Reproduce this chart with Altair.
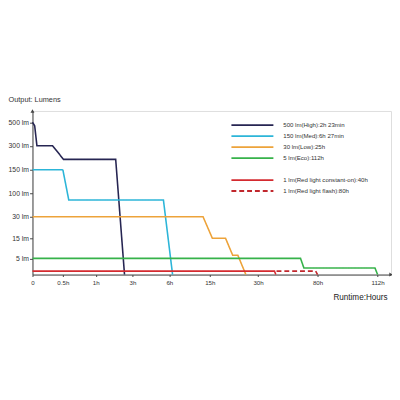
import altair as alt
import pandas as pd

FONT = "Liberation Sans"

# ---- data (hours, lumens) ----
HIGH_H = [0, 0.036, 0.073, 0.33, 0.51, 2.09, 2.57]
HIGH_LM = [500, 470, 300, 300, 215, 215, 0]

MED_H = [0, 0.5, 0.59, 5.52, 6.72]
MED_LM = [150, 150, 80, 80, 0]

LOW_H = [0, 13.5, 15.8, 19.9, 22.1, 23.7, 26.2]
LOW_LM = [30, 30, 15, 15, 6.6, 6.6, 0]

ECO_H = [0, 65.7, 68.5, 110.6, 112]
ECO_LM = [5, 5, 2, 2, 0]

RED_H = [0, 43.8, 44.9]
RED_LM = [1, 1, 0]

FLASH_H = [45.5, 78.4, 80]
FLASH_LM = [1, 1, 0]

SERIES = [
    "500 lm(High):2h 23min",
    "150 lm(Med):6h 27min",
    "30 lm(Low):25h",
    "5 lm(Eco):112h",
    " ",
    "1 lm(Red light constant-on):40h",
    "1 lm(Red light flash):80h",
]
COLORS = ["#262552", "#2cb5d8", "#eda33a", "#36b24a", "#ffffff", "#d42a2f", "#c1272d"]
DASHES = [[1, 0], [1, 0], [1, 0], [1, 0], [1, 0], [1, 0], [5, 3]]

# axis ticks
X_TICKS = [0, 0.5, 1, 3, 6, 15, 30, 80, 112]
Y_TICKS = [5, 15, 30, 100, 150, 300, 500]

# non-uniform axes (piecewise scale breakpoints)
X_DOMAIN = [0, 0.5, 1, 3, 6, 15, 30, 80, 112, 130]
X_RANGE = [0, 31, 64.5, 102, 139.7, 181, 230.3, 291, 352.3, 366]
Y_DOMAIN = [0, 1, 5, 15, 30, 100, 150, 300, 500, 700]
Y_RANGE = [167, 163.5, 150.5, 130, 108, 84, 60, 35.5, 11.5, 0]

# axis-arrow ends
ARROW_X = {"h": [130], "lm": [0], "shape": ["triangle-right"]}
ARROW_Y = {"h": [0], "lm": [700], "shape": ["triangle-up"]}

rows = []
for name, hs, lms in zip(
    [SERIES[0], SERIES[1], SERIES[2], SERIES[3], SERIES[5], SERIES[6]],
    [HIGH_H, MED_H, LOW_H, ECO_H, RED_H, FLASH_H],
    [HIGH_LM, MED_LM, LOW_LM, ECO_LM, RED_LM, FLASH_LM],
):
    for i, (h, lm) in enumerate(zip(hs, lms)):
        rows.append({"series": name, "h": h, "lm": lm, "i": i})
df = pd.DataFrame(rows)

arrows = pd.concat([pd.DataFrame(ARROW_X), pd.DataFrame(ARROW_Y)], ignore_index=True)

xscale = alt.Scale(domain=X_DOMAIN, range=X_RANGE, nice=False, zero=False)
yscale = alt.Scale(domain=Y_DOMAIN, range=Y_RANGE, nice=False, zero=False)

xaxis = alt.Axis(
    values=X_TICKS,
    labelExpr="datum.value == 0 ? '0' : datum.value + 'h'",
    title="Runtime:Hours",
    titleAnchor="start",
    titleAlign="right",
    titleX=362,
    titleY=23,
    titleBaseline="middle",
    titleFont=FONT,
    titleFontSize=8.3,
    titleFontWeight="normal",
    titleColor="#222222",
    labelFont=FONT,
    labelFontSize=6.3,
    labelColor="#333333",
    labelPadding=3,
    labelFlush=False,
    labelOverlap=False,
    tickSize=2,
    tickColor="#444444",
    domainColor="#444444",
    grid=False,
)
yaxis = alt.Axis(
    values=Y_TICKS,
    labelExpr="datum.value + ' lm'",
    title="Output: Lumens",
    titleAngle=0,
    titleAlign="left",
    titleBaseline="middle",
    titleX=-25,
    titleY=-12,
    titleFont=FONT,
    titleFontSize=7.5,
    titleFontWeight="normal",
    titleColor="#333333",
    labelFont=FONT,
    labelFontSize=7,
    labelColor="#333333",
    labelPadding=1,
    labelOverlap=False,
    tickSize=3,
    tickColor="#444444",
    domainColor="#444444",
    grid=False,
)

legend = alt.Legend(
    title=None,
    orient="none",
    legendX=220,
    legendY=10,
    padding=0,
    labelFont=FONT,
    labelFontSize=6.2,
    labelColor="#333333",
    symbolType="M-6,0H6",
    symbolSize=51,
    symbolStrokeWidth=1.8,
    labelOffset=27,
    rowPadding=2.2,
)

lines = alt.Chart(df).mark_line(strokeWidth=1.6, clip=False).encode(
    x=alt.X("h:Q", scale=xscale, axis=xaxis),
    y=alt.Y("lm:Q", scale=yscale, axis=yaxis),
    color=alt.Color("series:N", scale=alt.Scale(domain=SERIES, range=COLORS), legend=legend),
    strokeDash=alt.StrokeDash("series:N", scale=alt.Scale(domain=SERIES, range=DASHES), legend=legend),
    order="i:Q",
)

heads = alt.Chart(arrows).mark_point(filled=True, size=16, color="#444444", opacity=1, clip=False).encode(
    x=alt.X("h:Q", scale=xscale, axis=xaxis),
    y=alt.Y("lm:Q", scale=yscale, axis=yaxis),
    shape=alt.Shape("shape:N", scale=None),
)

chart = alt.layer(lines, heads).properties(
    width=366,
    height=167,
    padding={"left": 25, "top": 102, "right": 1, "bottom": 30},
    autosize=alt.AutoSizeParams(type="none"),
).configure_view(strokeWidth=0).configure(background="white")

chart.save("out.html", embed_options={"renderer": "svg", "actions": False})
